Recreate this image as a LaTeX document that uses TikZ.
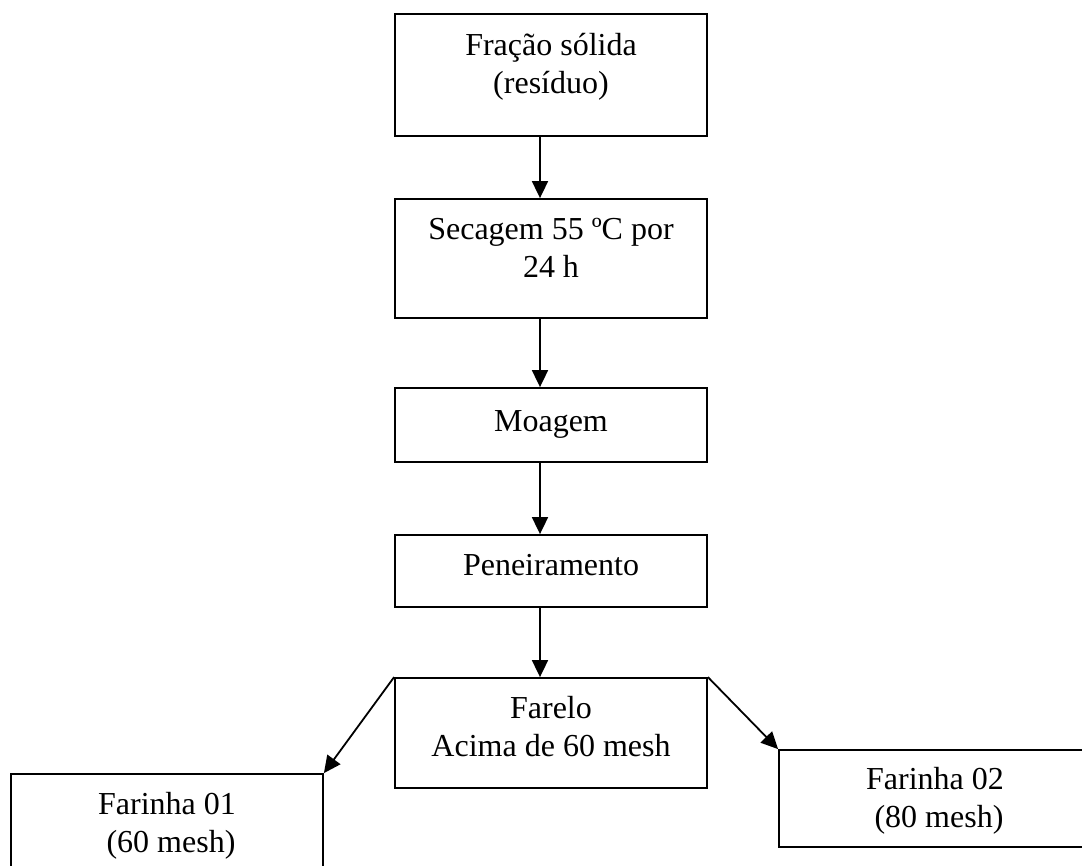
\documentclass[tikz,border=0pt]{standalone}
\usepackage{fontspec}
\setmainfont{Liberation Serif}
\usetikzlibrary{arrows.meta}
\begin{document}
\begin{tikzpicture}[x=1bp,y=-1bp,
  box/.style={draw=black,line width=1.8bp,minimum width=312bp,inner sep=0pt,rectangle},
  txt/.style={anchor=base,align=center,inner sep=0pt,font=\fontsize{32bp}{38bp}\selectfont},
  arr/.style={draw=black,line width=1.8bp,-{Triangle[length=17bp,width=16bp]}}]
\useasboundingbox (0,0) rectangle (1082,866);
\clip (0,0) rectangle (1082,866);
\node[box,minimum height=122bp] (b1) at (551,75) {};
\node[box,minimum height=119bp] (b2) at (551,258.5) {};
\node[box,minimum height=74bp] (b3) at (551,425) {};
\node[box,minimum height=72bp] (b4) at (551,571) {};
\node[box,minimum height=110bp] (b5) at (551,733) {};
\node[box,minimum height=110bp] (f1) at (167,829) {};
\node[box,minimum height=97bp] (f2) at (935,798.5) {};
\node[txt] (t1) at (551,93) {Fração sólida\\(resíduo)};
\node[txt] (t2) at (551,277) {Secagem 55 ºC por\\24 h};
\node[txt] (t3) at (551,431) {Moagem};
\node[txt] (t4) at (551,575) {Peneiramento};
\node[txt] (t5) at (551,756) {Farelo\\Acima de 60 mesh};
\node[txt] (t6) at (167,852) {Farinha 01\\~(60 mesh)};
\node[txt] (t7) at (935,827) {Farinha 02\\~(80 mesh)};
\draw[arr] ([xshift=-11bp]b1.south) -- ([xshift=-11bp]b2.north);
\draw[arr] ([xshift=-11bp]b2.south) -- ([xshift=-11bp]b3.north);
\draw[arr] ([xshift=-11bp]b3.south) -- ([xshift=-11bp]b4.north);
\draw[arr] ([xshift=-11bp]b4.south) -- ([xshift=-11bp]b5.north);
\draw[arr] (b5.north west) -- (f1.north east);
\draw[arr] (b5.north east) -- (f2.north west);
\end{tikzpicture}
\end{document}
